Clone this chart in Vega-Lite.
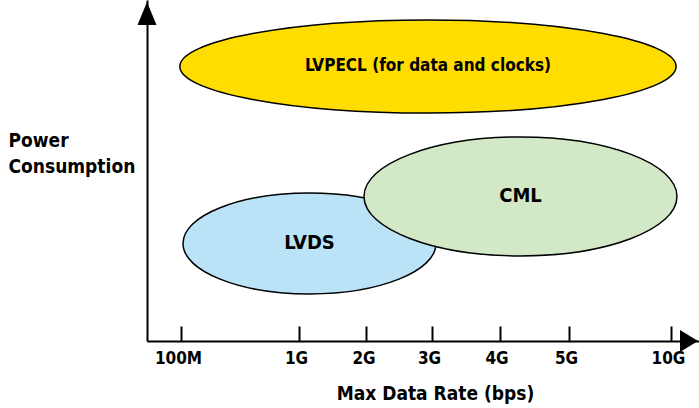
{
  "$schema": "https://vega.github.io/schema/vega-lite/v6.json",
  "autosize": {"type": "none"},
  "width": 552,
  "height": 341,
  "padding": {"left": 147, "top": 0, "right": 0, "bottom": 67},
  "background": "white",
  "config": {"view": {"stroke": null}, "font": "DejaVu Sans Condensed, Liberation Sans"},
  "datasets": {
    "zones": [
      {"name": "LVPECL", "label": "LVPECL (for data and clocks)", "rate": 50.9, "rate_span": 89.9, "power": 80.5},
      {"name": "LVDS", "label": "LVDS", "rate": 29.44, "rate_span": 45.83, "power": 28.6},
      {"name": "CML", "label": "CML", "rate": 67.66, "rate_span": 56.7, "power": 42.4}
    ]
  },
  "layer": [
    {
      "data": {"name": "zones"},
      "mark": {"type": "point", "filled": true, "opacity": 1, "stroke": "black", "strokeWidth": 1.5, "strokeOpacity": 1},
      "encoding": {
        "x": {
          "field": "rate", "type": "quantitative",
          "scale": {"domain": [0, 100], "nice": false, "zero": false},
          "axis": {
            "values": [6.16, 27.54, 39.76, 51.63, 63.86, 76.45, 94.93],
            "labelExpr": "datum.value < 10 ? '100M' : datum.value < 30 ? '1G' : datum.value < 45 ? '2G' : datum.value < 58 ? '3G' : datum.value < 70 ? '4G' : datum.value < 85 ? '5G' : '10G'",
            "title": "Max Data Rate (bps)",
            "grid": false,
            "domainColor": "black", "domainWidth": 2,
            "tickColor": "black", "tickWidth": 2, "tickSize": -15,
            "labelFont": "DejaVu Sans Condensed, Liberation Sans", "labelFontSize": 17, "labelFontWeight": "bold", "labelColor": "black",
            "labelPadding": 24, "labelFlush": false, "labelOverlap": false, "labelOffset": -3,
            "titleFont": "DejaVu Sans Condensed, Liberation Sans", "titleFontSize": 19, "titleFontWeight": "bold", "titleColor": "black",
            "titleX": 288, "titleY": 52, "titleBaseline": "middle", "titleAlign": "center", "titleAnchor": null
          }
        },
        "y": {
          "field": "power", "type": "quantitative",
          "scale": {"domain": [0, 100], "nice": false, "zero": false},
          "axis": {
            "ticks": false, "labels": false, "grid": false,
            "domainColor": "black", "domainWidth": 2,
            "title": ["Power", "Consumption"],
            "titleAngle": 0, "titleAlign": "left", "titleBaseline": "middle",
            "titleX": -139, "titleY": 140,
            "titleFont": "DejaVu Sans Condensed, Liberation Sans", "titleFontSize": 19, "titleFontWeight": "bold", "titleColor": "black",
            "titleLineHeight": 26
          }
        },
        "size": {
          "field": "rate_span", "type": "quantitative",
          "scale": {"type": "pow", "exponent": 2, "domain": [0, 100], "range": [0, 304704]},
          "legend": null
        },
        "shape": {
          "field": "name", "type": "nominal",
          "scale": {
            "domain": ["LVPECL", "LVDS", "CML"],
            "range": [
              "M-1,0A1,0.1875,0,1,0,1,0A1,0.1875,0,1,0,-1,0Z",
              "M-1,0A1,0.399,0,1,0,1,0A1,0.399,0,1,0,-1,0Z",
              "M-1,0A1,0.38,0,1,0,1,0A1,0.38,0,1,0,-1,0Z"
            ]
          },
          "legend": null
        },
        "fill": {
          "field": "name", "type": "nominal",
          "scale": {"domain": ["LVPECL", "LVDS", "CML"], "range": ["#FFDD00", "#BAE3F8", "#D3E8C6"]},
          "legend": null
        }
      }
    },
    {
      "data": {"name": "zones"},
      "mark": {"type": "text", "font": "DejaVu Sans Condensed, Liberation Sans", "fontWeight": "bold", "color": "black", "baseline": "middle", "align": "center"},
      "encoding": {
        "x": {"field": "rate", "type": "quantitative"},
        "y": {"field": "power", "type": "quantitative"},
        "text": {"field": "label"},
        "size": {"condition": {"test": "datum.name === 'LVPECL'", "value": 17}, "value": 20}
      }
    },
    {
      "data": {"values": [{}]},
      "mark": {"type": "point", "shape": "M0,-1L0.826,1L-0.826,1Z", "size": 529, "filled": true, "fill": "black", "opacity": 1, "strokeWidth": 0},
      "encoding": {
        "x": {"datum": 0, "type": "quantitative"},
        "y": {"datum": 96.04, "type": "quantitative"}
      }
    },
    {
      "data": {"values": [{}]},
      "mark": {"type": "point", "shape": "M1,0L-1,1.22L-1,-1.22Z", "size": 324, "filled": true, "fill": "black", "opacity": 1, "strokeWidth": 0},
      "encoding": {
        "x": {"datum": 98.19, "type": "quantitative"},
        "y": {"datum": 0, "type": "quantitative"}
      }
    }
  ]
}
